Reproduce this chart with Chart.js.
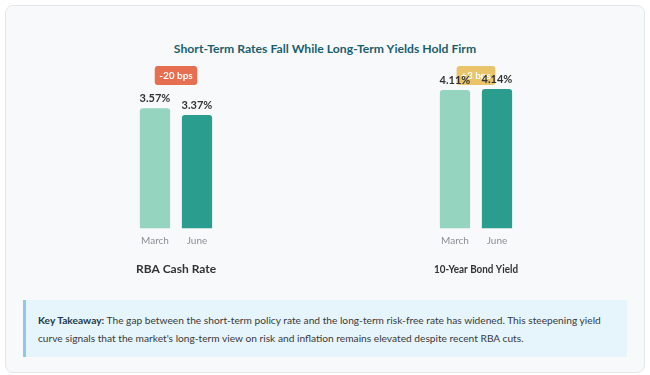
<!DOCTYPE html>
<html>
<head>
<meta charset="utf-8">
<script src="https://cdn.jsdelivr.net/npm/chart.js@4.4.1/dist/chart.umd.min.js"></script>
<style>
  html, body { margin: 0; padding: 0; background: #ffffff; font-family: Lato, "Open Sans", sans-serif; }
  .card {
    position: absolute; left: 5px; top: 5px; width: 638px; height: 366px;
    background: #f8f9fb; border: 1px solid #e3e6ea; border-radius: 8px;
  }
  .title {
    position: absolute; left: 0; right: 0; top: 35px; text-align: center;
    font-size: 12.2px; font-weight: 700; color: #1b5f6f;
  }
  .chart-box { position: absolute; top: 54px; width: 120px; height: 216px; }
  .takeaway {
    position: absolute; left: 17px; top: 294px; width: 589px; height: 45px;
    background: #e6f4fc; border-left: 3px solid #8ecae6;
    padding: 11px 0 1px 12px; font-size: 10.2px; line-height: 18px; color: #3a3a3a;
  }
  .takeaway b { color: #1d3b48; }
</style>
</head>
<body>
<div class="card">
  <div class="title">Short-Term Rates Fall While Long-Term Yields Hold Firm</div>
  <div class="chart-box" style="left:110px"><canvas id="cash-chart"></canvas></div>
  <div class="chart-box" style="left:410px"><canvas id="bond-chart"></canvas></div>
  <div class="takeaway"><b>Key Takeaway:</b> The gap between the short-term policy rate and the long-term risk-free rate has widened. This steepening yield curve signals that the market's long-term view on risk and inflation remains elevated despite recent RBA cuts.</div>
</div>
<script>
const periods = ["March", "June"];
const cashRate = [3.57, 3.37];
const bondYield = [4.11, 4.14];
const groupNames = ["RBA Cash Rate", "10-Year Bond Yield"];
const badgeText = ["-20 bps", "+3 bps"];
const badgeColors = ["#e76f51", "#e9c46a"];
const barColors = ["#95d4bf", "#2a9d8f"];

// badge + value labels drawn over the bars
const labelPlugin = {
  id: "labels",
  afterDatasetsDraw(chart, args, opts) {
    const c = chart.ctx;
    const area = chart.chartArea;
    const cx = (area.left + area.right) / 2;

    c.save();
    c.font = "bold 10px Lato";
    const w = c.measureText(opts.badge).width + 9;
    c.fillStyle = opts.color;
    c.beginPath();
    c.roundRect(cx - w / 2, area.top + 6, w, 19, 3);
    c.fill();
    c.fillStyle = "#fff";
    c.textAlign = "center";
    c.textBaseline = "middle";
    c.fillText(opts.badge, cx, area.top + 15.5);

    c.font = "bold 11px Lato";
    c.fillStyle = "#333";
    c.textBaseline = "bottom";
    chart.getDatasetMeta(0).data.forEach((bar, i) => {
      const v = chart.data.datasets[0].data[i];
      c.fillText(v.toFixed(2) + "%", bar.x, bar.y - 4);
    });
    c.restore();
  }
};

function makeChart(id, values, name, badge, color) {
  return new Chart(document.getElementById(id), {
    type: "bar",
    data: {
      labels: periods,
      datasets: [{
        data: values,
        backgroundColor: barColors,
        borderRadius: { topLeft: 3, topRight: 3 },
        borderSkipped: "bottom"
      }]
    },
    options: {
      responsive: true,
      maintainAspectRatio: false,
      animation: false,
      layout: { padding: { left: 18, right: 18, top: 0, bottom: 0 } },
      plugins: {
        legend: { display: false },
        tooltip: { enabled: false },
        labels: { badge, color }
      },
      scales: {
        y: { display: false, min: 0, max: 5 },
        x: {
          grid: { display: false, drawTicks: false },
          border: { display: false },
          ticks: { color: "#8a8f94", font: { family: "Lato", size: 10 }, padding: 6 },
          title: {
            display: true, text: name, color: "#333",
            font: { family: "Lato", size: 12, weight: "bold" },
            padding: { top: 9, bottom: 0 }
          }
        }
      }
    },
    plugins: [labelPlugin]
  });
}

makeChart("cash-chart", cashRate, groupNames[0], badgeText[0], badgeColors[0]);
makeChart("bond-chart", bondYield, groupNames[1], badgeText[1], badgeColors[1]);
</script>
</body>
</html>
